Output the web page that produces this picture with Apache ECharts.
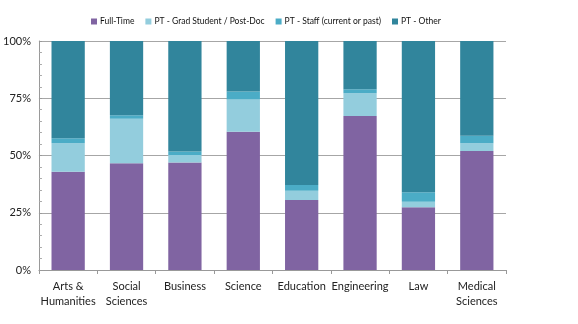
<!DOCTYPE html>
<html><head><meta charset="utf-8">
<script src="https://cdn.jsdelivr.net/npm/echarts@6/dist/echarts.min.js"></script>
<style>html,body{margin:0;padding:0;background:#fff}#c{width:578px;height:324px}</style>
</head><body><div id="c"></div>
<script>
var categories = ['Arts &\nHumanities','Social\nSciences','Business','Science','Education','Engineering','Law','Medical\nSciences'];
var seriesNames = ['Full-Time','PT - Grad Student / Post-Doc','PT - Staff (current or past)','PT - Other'];
var fullTime = [42.9, 46.6, 46.9, 60.4, 30.6, 67.2, 27.4, 52.0];
var ptGrad   = [12.4, 19.5, 3.3, 14.1, 4.0, 10.0, 2.4, 3.3];
var ptStaff  = [2.2, 1.5, 1.6, 3.4, 2.5, 1.7, 4.1, 3.3];
var ptOther  = [42.5, 32.4, 48.2, 22.1, 62.9, 21.1, 66.1, 41.4];
var yTicks = [0, 25, 50, 75, 100];
var colors = ['#8064A2','#93CDDD','#4BACC6','#31859C'];
var font = 'Lato, "Open Sans", sans-serif';
var data = [fullTime, ptGrad, ptStaff, ptOther];
var chart = echarts.init(document.getElementById('c'));
chart.setOption({
  animation: false,
  textStyle: {fontFamily: font},
  legend: {
    top: 12, left: 86, itemWidth: 6, itemHeight: 6, itemGap: 11,
    icon: 'rect',
    textStyle: {fontSize: 8.5, color: '#111', fontFamily: font, padding: [0, 0, 0, -2]},
    data: seriesNames
  },
  grid: {left: 38, right: 72, top: 41, bottom: 54, containLabel: false},
  xAxis: {
    type: 'category', data: categories,
    axisLine: {lineStyle: {color: '#999'}},
    axisTick: {show: true, length: 4, lineStyle: {color: '#999'}},
    axisLabel: {fontSize: 11, color: '#222', lineHeight: 15, margin: 9, interval: 0, fontFamily: font}
  },
  yAxis: {
    type: 'value', min: yTicks[0], max: yTicks[yTicks.length-1], interval: 25,
    axisLine: {show: true, lineStyle: {color: '#999'}},
    axisTick: {show: true, inside: true, length: 3, lineStyle: {color: '#999'}},
    minorTick: {show: true, splitNumber: 5, length: 3, lineStyle: {color: '#aaa'}},
    splitLine: {lineStyle: {color: '#a6a6a6'}},
    axisLabel: {formatter: '{value}%', fontSize: 11, color: '#222', margin: 8, fontFamily: font}
  },
  series: seriesNames.map(function(n, i){
    return {name: n, type: 'bar', stack: 'a', data: data[i], barWidth: '57%',
      itemStyle: {color: colors[i]}};
  })
});
</script></body></html>
